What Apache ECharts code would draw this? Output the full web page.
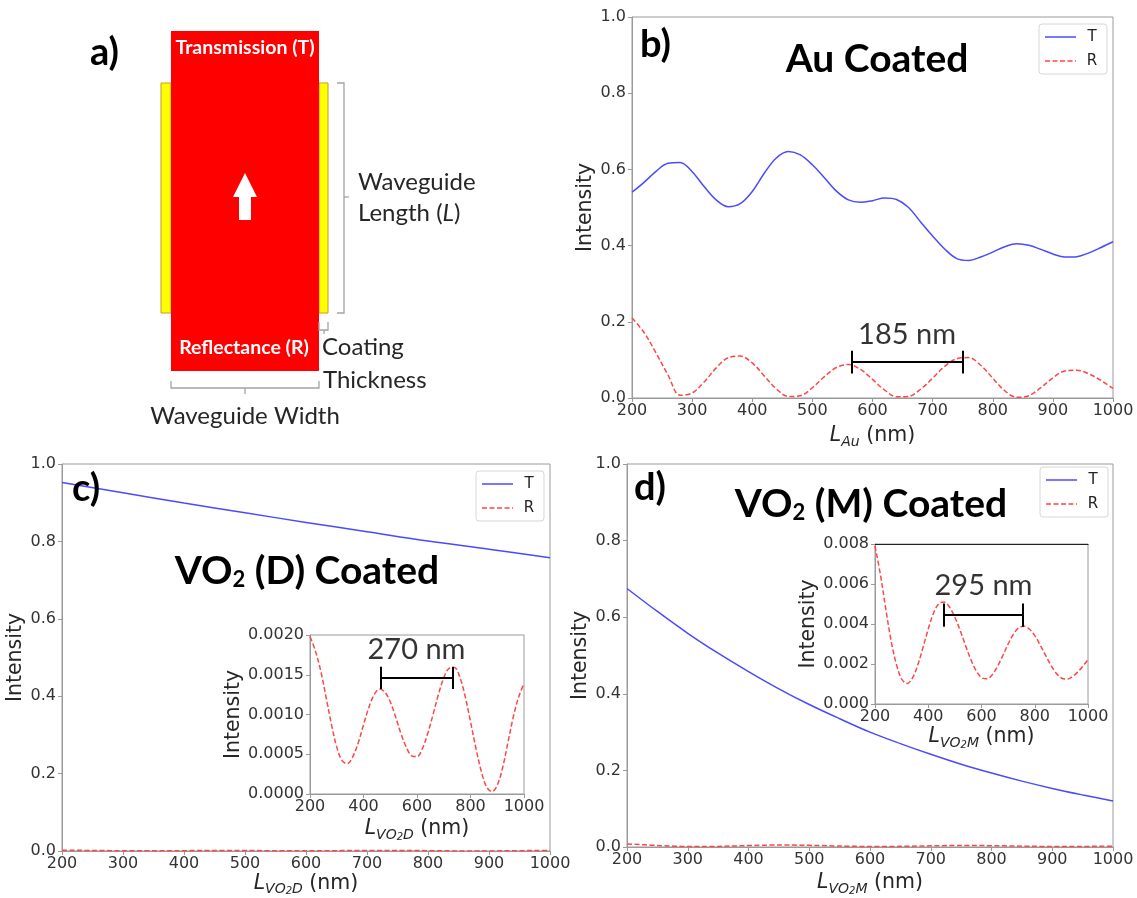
<!DOCTYPE html>
<html>
<head>
<meta charset="utf-8">
<script src="https://cdn.jsdelivr.net/npm/echarts@6/dist/echarts.min.js"></script>
<style>
  html, body { margin: 0; padding: 0; background: #fff; }
  #fig { width: 1137px; height: 898px; }
</style>
</head>
<body>
<div id="fig"></div>
<script>
// ---- sample positions (waveguide length, nm) ----
const lengthNm = [200,220,240,260,280,300,320,340,360,380,400,420,440,460,480,500,520,540,560,580,600,
                  620,640,660,680,700,720,740,760,780,800,820,840,860,880,900,920,940,960,980,1000];

// ---- b) Au coated ----
const auT = [0.540,0.566,0.595,0.616,0.618,0.594,0.555,0.520,0.502,0.510,0.542,0.590,0.630,0.647,0.638,0.612,
             0.578,0.543,0.520,0.514,0.518,0.525,0.521,0.500,0.462,0.425,0.391,0.366,0.361,0.370,0.383,0.397,
             0.405,0.401,0.390,0.378,0.370,0.371,0.381,0.395,0.410];
const auR = [0.210,0.172,0.118,0.060,0.007,0.013,0.042,0.079,0.106,0.110,0.092,0.058,0.024,0.004,0.006,0.027,
             0.056,0.080,0.088,0.075,0.049,0.021,0.003,0.004,0.023,0.052,0.083,0.103,0.106,0.086,0.052,0.019,
             0.002,0.006,0.027,0.053,0.071,0.073,0.063,0.046,0.025];

// ---- c) VO2 (D) coated ----
const vo2dLen = [200,300,400,500,600,700,800,900,1000];
const vo2dT = [0.952,0.926,0.899,0.874,0.849,0.825,0.801,0.780,0.758];
const vo2dR = [0.00198,0.00180,0.00155,0.00122,0.00088,0.00059,0.00042,0.00038,0.00047,0.00064,
               0.00087,0.00109,0.00125,0.00132,0.00128,0.00116,0.00097,0.00076,0.00059,0.00048,
               0.00047,0.00057,0.00076,0.00100,0.00125,0.00146,0.00158,0.00159,0.00147,0.00123,
               0.00091,0.00058,0.00029,0.00009,0.00003,0.00011,0.00033,0.00065,0.00097,0.00122,0.00139];

// ---- d) VO2 (M) coated ----
const vo2mLen = [200,250,300,350,400,450,500,550,600,650,700,750,800,850,900,950,1000];
const vo2mT = [0.675,0.615,0.558,0.506,0.458,0.413,0.372,0.335,0.300,0.270,0.242,0.216,0.193,0.172,0.153,0.136,0.120];
const vo2mR = [0.0079,0.0065,0.0048,0.0032,0.0020,0.00125,0.00102,0.00128,0.00193,0.00281,
               0.00375,0.00455,0.00502,0.00510,0.00484,0.00434,0.00367,0.00293,0.00222,0.00166,
               0.00132,0.00126,0.00146,0.00188,0.00242,0.00300,0.00349,0.00381,0.00389,0.00374,
               0.00342,0.00296,0.00245,0.00195,0.00155,0.00130,0.00124,0.00136,0.00158,0.00188,0.00222];

// ---- period markers: [start, end] in nm; [bracket level, end-tick half height, label level] ----
const spanAu = [565, 750];   const spanAuLevel = [0.094, 0.03, 0.167];
const spanVo2d = [463, 733]; const spanVo2dLevel = [0.00146, 0.00014, 0.00182];
const spanVo2m = [460, 755]; const spanVo2mLevel = [0.00444, 0.00058, 0.00591];

// ---- axis ranges [min, max, interval] ----
const mainX = [200, 1000, 100];
const insetX = [200, 1000, 200];
const mainY = [0, 1, 0.2];
const insetDY = [0, 0.002, 0.0005];
const insetMY = [0, 0.008, 0.002];

const AX_FONT = "'DejaVu Sans', sans-serif";
const FIG_FONT = "Lato, 'Open Sans', sans-serif";
const BLUE = '#4a4aff';
const RED = '#ff4646';
const SPINE = '#9a9a9a';
const DASH = [5, 2.5];
const TICK_SIZE = 16;
const NAME_SIZE = 20.5;

const pairs = (xs, ys) => xs.map((x, i) => [x, ys[i]]);

const nameRich = {
  n:  { fontFamily: AX_FONT, fontSize: NAME_SIZE, lineHeight: 26, color: '#262626' },
  i:  { fontFamily: AX_FONT, fontSize: NAME_SIZE, lineHeight: 26, color: '#262626', fontStyle: 'italic' },
  s:  { fontFamily: AX_FONT, fontSize: 14, lineHeight: 16, color: '#262626', fontStyle: 'italic', verticalAlign: 'bottom' },
  ss: { fontFamily: AX_FONT, fontSize: 10, lineHeight: 9, color: '#262626', fontStyle: 'italic', verticalAlign: 'bottom' }
};

function xAxis(grid, range, name, nameGap) {
  return {
    type: 'value', gridIndex: grid, min: range[0], max: range[1], interval: range[2],
    name, nameLocation: 'middle', nameGap,
    nameTextStyle: { rich: nameRich },
    axisLine: { show: true, lineStyle: { color: SPINE, width: 1 } },
    axisTick: { show: true, length: 4, lineStyle: { color: SPINE } },
    axisLabel: { margin: 5, color: '#333', fontFamily: AX_FONT, fontSize: TICK_SIZE,
                 formatter: v => String(v) },
    splitLine: { show: false }
  };
}
function yAxis(grid, range, digits, nameGap) {
  return {
    type: 'value', gridIndex: grid, min: range[0], max: range[1], interval: range[2],
    name: 'Intensity', nameLocation: 'middle', nameGap, nameRotate: 90,
    nameTextStyle: { fontFamily: AX_FONT, fontSize: NAME_SIZE, color: '#262626' },
    axisLine: { show: true, onZero: false, lineStyle: { color: SPINE, width: 1 } },
    axisTick: { show: true, length: 4, lineStyle: { color: SPINE } },
    axisLabel: { margin: 6, color: '#333', fontFamily: AX_FONT, fontSize: TICK_SIZE,
                 formatter: v => v.toFixed(digits) },
    splitLine: { show: false }
  };
}
function grid(left, top, width, height) {
  return { left, top, width, height, containLabel: false, outerBoundsMode: 'none',
           show: true, borderColor: SPINE, borderWidth: 1, backgroundColor: '#fff' };
}
function curve(xi, data, color, dashed) {
  return {
    type: 'line', xAxisIndex: xi, yAxisIndex: xi, data, smooth: 0.35, symbol: 'none', silent: true,
    lineStyle: { color, width: 1.5, type: dashed ? DASH : 'solid' }, z: 3
  };
}
function bracket(xi, span, lv) {
  const [a, b] = span, [y, h] = lv;
  return {
    type: 'lines', coordinateSystem: 'cartesian2d', xAxisIndex: xi, yAxisIndex: xi, silent: true, z: 6,
    lineStyle: { color: '#000', width: 2, opacity: 1, curveness: 0 },
    data: [
      { coords: [[a, y], [b, y]] },
      { coords: [[a, y - h], [a, y + h]] },
      { coords: [[b, y - h], [b, y + h]] }
    ]
  };
}
function spanLabel(xi, span, lv) {
  return {
    type: 'scatter', xAxisIndex: xi, yAxisIndex: xi, silent: true, z: 7,
    data: [[(span[0] + span[1]) / 2, lv[2]]], symbolSize: 1,
    itemStyle: { color: 'rgba(0,0,0,0)' },
    label: { show: true, position: 'inside', formatter: (span[1] - span[0]) + ' nm',
             fontFamily: FIG_FONT, fontSize: 29, color: '#000' }
  };
}

// ---- free text and the waveguide sketch ----
function text(x, y, str, o) {
  const st = Object.assign({ text: str, fill: '#000', fontFamily: FIG_FONT, fontSize: 20,
                             align: 'left', verticalAlign: 'middle' }, o || {});
  st.textAlign = st.align; st.textVerticalAlign = st.verticalAlign;
  return { type: 'text', x, y, z: 50, silent: true, style: st };
}
function poly(points, color) {
  return { type: 'polyline', z: 40, silent: true, shape: { points },
           style: { stroke: color || '#a3a3a3', lineWidth: 1.3, fill: null } };
}
function legend(left, top) {
  return [
    { type: 'rect', z: 45, silent: true, shape: { x: left, y: top, width: 68, height: 50, r: 3 },
      style: { fill: '#fff', stroke: '#d6d6d6', lineWidth: 1 } },
    { type: 'line', z: 46, silent: true, shape: { x1: left + 6, y1: top + 13, x2: left + 37, y2: top + 13 },
      style: { stroke: BLUE, lineWidth: 1.5 } },
    { type: 'line', z: 46, silent: true, shape: { x1: left + 6, y1: top + 37, x2: left + 37, y2: top + 37 },
      style: { stroke: RED, lineWidth: 1.5, lineDash: DASH } },
    text(left + 53, top + 13, 'T', { fontFamily: AX_FONT, fontSize: 15, fill: '#222', align: 'center' }),
    text(left + 53, top + 37, 'R', { fontFamily: AX_FONT, fontSize: 15, fill: '#222', align: 'center' })
  ];
}
const titleRich = {
  a: { fontFamily: FIG_FONT, fontWeight: 'bold', fontSize: 39, lineHeight: 46, fill: '#000', verticalAlign: 'bottom' },
  s: { fontFamily: FIG_FONT, fontWeight: 'bold', fontSize: 22, lineHeight: 24, fill: '#000', verticalAlign: 'bottom' }
};
function title(x, y, str) {
  return text(x, y, str, { rich: titleRich, align: 'center', fontWeight: 'bold', fontSize: 39 });
}
const panelFont = { fontWeight: 'bold', fontSize: 38 };
const sketchFont = { fill: '#262626', fontSize: 24 };

const graphics = [
  // waveguide sketch
  { type: 'rect', z: 30, silent: true, shape: { x: 161, y: 83, width: 10, height: 230 },
    style: { fill: '#ffff00', stroke: '#c79a2a', lineWidth: 1 } },
  { type: 'rect', z: 30, silent: true, shape: { x: 319, y: 83, width: 9, height: 230 },
    style: { fill: '#ffff00', stroke: '#c79a2a', lineWidth: 1 } },
  { type: 'rect', z: 31, silent: true, shape: { x: 171, y: 31, width: 148, height: 340 },
    style: { fill: '#ff0000' } },
  { type: 'polygon', z: 32, silent: true,
    shape: { points: [[245, 173], [257, 197], [251, 197], [251, 220], [239, 220], [239, 197], [233, 197]] },
    style: { fill: '#fff' } },
  text(245, 48, 'Transmission (T)', { fill: '#fff', fontWeight: 'bold', fontSize: 19.5, align: 'center' }),
  text(244, 348, 'Reflectance (R)', { fill: '#fff', fontWeight: 'bold', fontSize: 19.5, align: 'center' }),
  poly([[337, 83], [344, 83], [344, 313], [337, 313]]),
  poly([[344, 197], [349, 197]]),
  text(358, 182, 'Waveguide', sketchFont),
  text(358, 213, '{n|Length (}{i|L}{n|)}', Object.assign({
    rich: { n: { fontFamily: FIG_FONT, fontSize: 24, fill: '#262626' },
            i: { fontFamily: FIG_FONT, fontSize: 24, fill: '#262626', fontStyle: 'italic' } } }, sketchFont)),
  poly([[319, 322], [319, 330], [328, 330], [328, 322]]),
  poly([[324, 330], [324, 334]]),
  text(322, 347, 'Coating', sketchFont),
  text(323, 380, 'Thickness', sketchFont),
  poly([[171, 381], [171, 388], [319, 388], [319, 381]]),
  poly([[245, 388], [245, 394]]),
  text(245, 416, 'Waveguide Width', Object.assign({ align: 'center' }, sketchFont)),

  // panel letters
  text(90, 53, 'a)', panelFont),
  text(640, 45, 'b)', panelFont),
  text(72, 489, 'c)', panelFont),
  text(634, 488, 'd)', panelFont),

  // panel titles
  title(877, 56, '{a|Au Coated}'),
  title(307, 568, '{a|VO}{s|2}{a| (D) Coated}'),
  title(871, 501, '{a|VO}{s|2}{a| (M) Coated}'),

  ...legend(1039, 24),
  ...legend(476, 471),
  ...legend(1040, 467)
];

const option = {
  backgroundColor: '#fff',
  animation: false,
  grid: [
    grid(632, 17, 481, 381),   // b
    grid(62, 464, 488, 387),   // c
    grid(627, 464, 486, 383),  // d
    grid(310, 635, 214, 159),  // c inset
    grid(875, 544, 213, 160)   // d inset
  ],
  xAxis: [
    xAxis(0, mainX, '{i|L}{s|Au}{n| (nm)}', 25),
    xAxis(1, mainX, '{i|L}{s|VO}{ss|2}{s|D}{n| (nm)}', 19),
    xAxis(2, mainX, '{i|L}{s|VO}{ss|2}{s|M}{n| (nm)}', 23),
    xAxis(3, insetX, '{i|L}{s|VO}{ss|2}{s|D}{n| (nm)}', 22),
    xAxis(4, insetX, '{i|L}{s|VO}{ss|2}{s|M}{n| (nm)}', 20),
    { type: 'value', gridIndex: 4, position: 'top', min: insetX[0], max: insetX[1],
      axisLine: { show: true, lineStyle: { color: '#222', width: 1.2 } },
      axisTick: { show: false }, axisLabel: { show: false }, splitLine: { show: false } }
  ],
  yAxis: [
    yAxis(0, mainY, 1, 32),
    yAxis(1, mainY, 1, 33),
    yAxis(2, mainY, 1, 34),
    yAxis(3, insetDY, 4, 62),
    yAxis(4, insetMY, 3, 53)
  ],
  series: [
    curve(0, pairs(lengthNm, auT), BLUE, false),
    curve(0, pairs(lengthNm, auR), RED, true),
    curve(1, pairs(vo2dLen, vo2dT), BLUE, false),
    curve(1, pairs(lengthNm, vo2dR), RED, true),
    curve(2, pairs(vo2mLen, vo2mT), BLUE, false),
    curve(2, pairs(lengthNm, vo2mR), RED, true),
    curve(3, pairs(lengthNm, vo2dR), RED, true),
    curve(4, pairs(lengthNm, vo2mR), RED, true),
    bracket(0, spanAu, spanAuLevel),
    bracket(3, spanVo2d, spanVo2dLevel),
    bracket(4, spanVo2m, spanVo2mLevel),
    spanLabel(0, spanAu, spanAuLevel),
    spanLabel(3, spanVo2d, spanVo2dLevel),
    spanLabel(4, spanVo2m, spanVo2mLevel)
  ],
  graphic: graphics
};

const chart = echarts.init(document.getElementById('fig'), null, { renderer: 'canvas' });
chart.setOption(option);
</script>
</body>
</html>
